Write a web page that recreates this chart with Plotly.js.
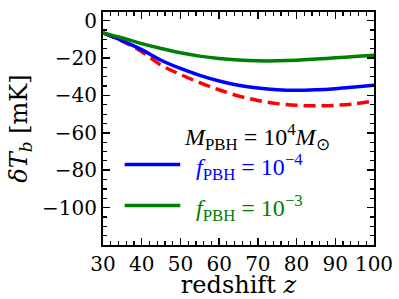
<!DOCTYPE html>
<html><head><meta charset="utf-8">
<script src="https://cdn.plot.ly/plotly-3.0.1.min.js"></script>
<style>html,body{margin:0;padding:0;background:#fff}#c{width:399px;height:299px}</style>
</head><body><div id="c"></div>
<script>
const redshift = [30,35,40,45,50,55,60,65,70,75,80,85,90,95,100];
const dTb_f1e4 = [-6.6,-10.8,-15.5,-21.2,-25.6,-29.3,-32.3,-34.6,-36.1,-37.0,-37.3,-37.0,-36.4,-35.5,-34.5];
const dTb_f1e3 = [-6.6,-9.3,-12.3,-14.9,-17.2,-19.0,-20.3,-21.1,-21.5,-21.5,-21.2,-20.6,-19.9,-19.2,-18.5];
const dTb_ref  = [-6.6,-11.0,-16.6,-23.8,-28.8,-33.2,-37.0,-40.3,-42.7,-44.4,-45.3,-45.6,-45.3,-44.5,-43.0];
const xTicks = [30,40,50,60,70,80,90,100];
const yTicks = [0,-20,-40,-60,-80,-100];

const serif = "DejaVu Serif";
const mathFont = "Liberation Serif";

const traces = [
  {x: redshift, y: dTb_ref, mode:'lines', line:{color:'#ff0000', width:3.5, dash:'12px,6px', shape:'spline'}, showlegend:false},
  {x: redshift, y: dTb_f1e4, mode:'lines', line:{color:'#0000ff', width:3.5, shape:'spline'}, showlegend:false},
  {x: redshift, y: dTb_f1e3, mode:'lines', line:{color:'#008000', width:3.5, shape:'spline'}, showlegend:false}
];

const layout = {
  width:399, height:299,
  margin:{l:103, r:25, t:12, b:54},
  paper_bgcolor:'#fff', plot_bgcolor:'#fff',
  font:{family:serif, size:20, color:'#000'},
  showlegend:false,
  xaxis: {
    showgrid:false, zeroline:false, showline:true, linecolor:'#000', linewidth:2,
    mirror:'allticks', ticks:'inside', ticklen:7, tickwidth:1.5, tickcolor:'#000',
    tickfont:{family:serif, size:20, color:'#000'}, automargin:false,
    range:[30,100], tickmode:'array', tickvals:xTicks, ticktext:xTicks.map(String),
    minor:{ticks:'inside', ticklen:4, tickwidth:1.2, tickcolor:'#000', dtick:2},
    title:{text:'redshift <i>z</i>', font:{family:serif, size:24, color:'#000'}, standoff:6}
  },
  yaxis: {
    showgrid:false, zeroline:false, showline:true, linecolor:'#000', linewidth:2,
    mirror:'allticks', ticks:'inside', ticklen:7, tickwidth:1.5, tickcolor:'#000',
    tickfont:{family:serif, size:20, color:'#000'}, automargin:false,
    range:[-120,4.6], tickmode:'array', tickvals:yTicks, ticktext:yTicks.map(v=>v<0?'\u2212'+Math.abs(v):String(v)),
    minor:{ticks:'inside', ticklen:4, tickwidth:1.2, tickcolor:'#000', dtick:5, tick0:0},
    title:{text:'<i>δT</i><sub><i>b</i></sub> [mK]', font:{family:serif, size:24, color:'#000'}, standoff:8}
  },
  shapes:[
    {type:'line', xref:'paper', yref:'paper', x0:0.08, x1:0.285, y0:0.345, y1:0.345, line:{color:'#0000ff', width:3.5}},
    {type:'line', xref:'paper', yref:'paper', x0:0.08, x1:0.285, y0:0.17, y1:0.17, line:{color:'#008000', width:3.5}}
  ],
  annotations:[
    {xref:'paper', yref:'paper', x:0.568, y:0.465, xanchor:'center', yanchor:'middle', showarrow:false,
     text:'<i>M</i><sub>PBH</sub> = 10<sup>4</sup><i>M</i><sub>⊙</sub>', font:{family:mathFont, size:24, color:'#000'}},
    {xref:'paper', yref:'paper', x:0.335, y:0.335, xanchor:'left', yanchor:'middle', showarrow:false,
     text:'<i>f</i><sub>PBH</sub> = 10<sup>−4</sup>', font:{family:mathFont, size:24, color:'#0000ff'}},
    {xref:'paper', yref:'paper', x:0.335, y:0.16, xanchor:'left', yanchor:'middle', showarrow:false,
     text:'<i>f</i><sub>PBH</sub> = 10<sup>−3</sup>', font:{family:mathFont, size:24, color:'#008000'}}
  ]
};

Plotly.newPlot('c', traces, layout, {staticPlot:true, displayModeBar:false});
</script>
</body></html>
